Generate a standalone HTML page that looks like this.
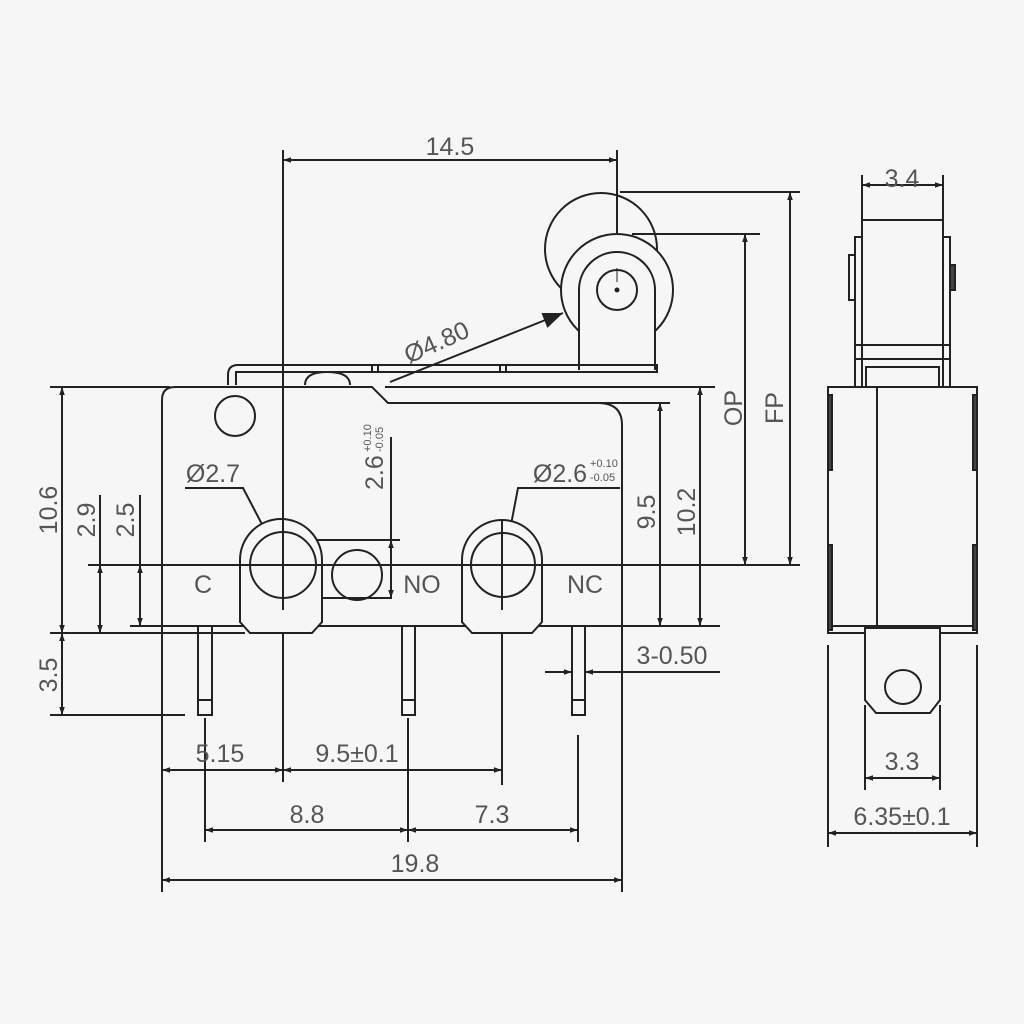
<!DOCTYPE html>
<html><head><meta charset="utf-8"><style>
html,body{margin:0;padding:0;background:#f6f6f6;}
svg{display:block}
text{font-family:"Liberation Sans Narrow","Liberation Sans",sans-serif;fill:#555;font-size:25px}
</style></head><body>
<svg width="1024" height="1024" viewBox="0 0 1024 1024" xmlns="http://www.w3.org/2000/svg">
<defs>
<marker id="a" viewBox="0 0 10 10" refX="10" refY="5" markerWidth="12" markerHeight="8" orient="auto-start-reverse" markerUnits="userSpaceOnUse"><path d="M0,1.5 L10,5 L0,8.5 Z" fill="#222"/></marker>
<marker id="b" viewBox="0 0 10 10" refX="10" refY="5" markerWidth="34" markerHeight="20" orient="auto" markerUnits="userSpaceOnUse"><path d="M0,1 L10,5 L0,9 Z" fill="#222"/></marker>
</defs>
<rect width="1024" height="1024" fill="#f6f6f6"/>
<g stroke="#222" stroke-width="2" fill="none">
<line x1="283" y1="150" x2="283" y2="782"/>
<line x1="617" y1="150" x2="617" y2="305"/>
<line x1="620" y1="192" x2="800" y2="192"/>
<line x1="632" y1="234" x2="760" y2="234"/>
<line x1="385" y1="387" x2="715" y2="387"/>
<line x1="600" y1="403" x2="670" y2="403"/>
<line x1="50" y1="387" x2="170" y2="387"/>
<line x1="50" y1="633" x2="245" y2="633"/>
<line x1="50" y1="715" x2="185" y2="715"/>
<line x1="88" y1="565" x2="800" y2="565"/>
<line x1="130" y1="626" x2="720" y2="626"/>
<line x1="162" y1="626" x2="162" y2="892"/>
<line x1="622" y1="626" x2="622" y2="892"/>
<line x1="502" y1="565" x2="502" y2="785"/>
<line x1="205" y1="718" x2="205" y2="842"/>
<line x1="408" y1="718" x2="408" y2="842"/>
<line x1="578" y1="735" x2="578" y2="842"/>
<line x1="100" y1="495" x2="100" y2="633"/>
<line x1="140" y1="495" x2="140" y2="626"/>
<line x1="283" y1="598" x2="392" y2="598"/>
<line x1="283" y1="540" x2="400" y2="540"/>
<line x1="391" y1="437" x2="391" y2="540"/>
<line x1="283" y1="160" x2="617" y2="160" marker-start="url(#a)" marker-end="url(#a)"/>
<line x1="62" y1="387" x2="62" y2="633" marker-start="url(#a)" marker-end="url(#a)"/>
<line x1="62" y1="633" x2="62" y2="715" marker-start="url(#a)" marker-end="url(#a)"/>
<line x1="100" y1="565" x2="100" y2="633" marker-start="url(#a)" marker-end="url(#a)"/>
<line x1="140" y1="565" x2="140" y2="626" marker-start="url(#a)" marker-end="url(#a)"/>
<line x1="391" y1="540" x2="391" y2="598" marker-start="url(#a)" marker-end="url(#a)"/>
<line x1="660" y1="403" x2="660" y2="626" marker-start="url(#a)" marker-end="url(#a)"/>
<line x1="700" y1="387" x2="700" y2="626" marker-start="url(#a)" marker-end="url(#a)"/>
<line x1="745" y1="234" x2="745" y2="565" marker-start="url(#a)" marker-end="url(#a)"/>
<line x1="790" y1="192" x2="790" y2="565" marker-start="url(#a)" marker-end="url(#a)"/>
<line x1="162" y1="770" x2="283" y2="770" marker-start="url(#a)" marker-end="url(#a)"/>
<line x1="283" y1="770" x2="502" y2="770" marker-start="url(#a)" marker-end="url(#a)"/>
<line x1="205" y1="830" x2="408" y2="830" marker-start="url(#a)" marker-end="url(#a)"/>
<line x1="408" y1="830" x2="578" y2="830" marker-start="url(#a)" marker-end="url(#a)"/>
<line x1="162" y1="880" x2="622" y2="880" marker-start="url(#a)" marker-end="url(#a)"/>
<line x1="545" y1="672" x2="572" y2="672" marker-end="url(#a)"/>
<line x1="720" y1="672" x2="585" y2="672" marker-end="url(#a)"/>
<polyline points="185,488 243,488 265,530"/>
<polyline points="620,488 518,488 510,530"/>
<line x1="390" y1="382" x2="563" y2="313" marker-end="url(#b)"/>
<!-- roller -->
<circle cx="601" cy="249" r="56"/>
<circle cx="617" cy="290" r="56" fill="#f6f6f6"/>
<line x1="617" y1="150" x2="617" y2="234"/>
<path d="M579,370 L579,290 A38,38 0 0 1 655,290 L655,370" fill="#f6f6f6"/>
<circle cx="617" cy="290" r="20"/>
<circle cx="617" cy="290" r="1.5" fill="#222"/>
<line x1="617" y1="268" x2="617" y2="282" stroke-width="1"/>
<!-- lever -->
<path d="M228,385 L228,375 Q228,365 238,365 L657,365 L657,372 L236,372 L236,385"/>
<line x1="372" y1="365" x2="372" y2="372"/><line x1="378" y1="365" x2="378" y2="372"/>
<line x1="500" y1="365" x2="500" y2="372"/><line x1="506" y1="365" x2="506" y2="372"/>
<path d="M305,385 Q305,372 327,372 Q350,372 350,385"/>
<!-- body -->
<path d="M175,387 L372,387 L388,403 L598,403 Q622,403 622,425 L622,626 L162,626 L162,400 Q162,387 175,387 Z" fill="none"/>
<circle cx="235" cy="416" r="20"/>
<path d="M240,622 L240,560 A41,41 0 0 1 322,560 L322,622 L312,633 L250,633 Z" fill="#f6f6f6"/>
<circle cx="283" cy="565" r="33"/>
<path d="M462,622 L462,560 A40,40 0 0 1 542,560 L542,622 L532,633 L472,633 Z" fill="#f6f6f6"/>
<circle cx="503" cy="565" r="32"/>
<circle cx="357" cy="575" r="25"/>
<line x1="88" y1="565" x2="560" y2="565"/>
<line x1="283" y1="520" x2="283" y2="610"/>
<line x1="502" y1="520" x2="502" y2="610"/>
<rect x="198" y="626" width="14" height="89"/><line x1="198" y1="700" x2="212" y2="700"/>
<rect x="402" y="626" width="13" height="89"/><line x1="402" y1="700" x2="415" y2="700"/>
<rect x="572" y="626" width="13" height="89"/><line x1="572" y1="700" x2="585" y2="700"/>
<!-- right view -->
<line x1="862" y1="175" x2="862" y2="222"/><line x1="943" y1="175" x2="943" y2="222"/>
<line x1="862" y1="185" x2="943" y2="185" marker-start="url(#a)" marker-end="url(#a)"/>
<rect x="862" y="220" width="81" height="125"/>
<rect x="855" y="237" width="7" height="150"/><rect x="943" y="237" width="7" height="150"/>
<rect x="849" y="255" width="6" height="45"/><rect x="950" y="265" width="5" height="25" fill="#444"/>
<rect x="855" y="345" width="95" height="14"/>
<rect x="866" y="367" width="73" height="20"/>
<rect x="828" y="387" width="149" height="246"/>
<line x1="877" y1="387" x2="877" y2="626"/>
<line x1="828" y1="626" x2="977" y2="626"/>
<rect x="828" y="395" width="4" height="75" fill="#444"/><rect x="973" y="395" width="4" height="75" fill="#444"/>
<rect x="828" y="545" width="4" height="85" fill="#444"/><rect x="973" y="545" width="4" height="85" fill="#444"/>
<path d="M865,628 L940,628 L940,700 L930,713 L876,713 L865,700 Z" fill="#f6f6f6"/>
<ellipse cx="903" cy="687" rx="18" ry="17"/>
<line x1="865" y1="705" x2="865" y2="790"/><line x1="940" y1="705" x2="940" y2="790"/>
<line x1="865" y1="778" x2="940" y2="778" marker-start="url(#a)" marker-end="url(#a)"/>
<line x1="828" y1="645" x2="828" y2="847"/><line x1="977" y1="645" x2="977" y2="847"/>
<line x1="828" y1="833" x2="977" y2="833" marker-start="url(#a)" marker-end="url(#a)"/>
</g>
<g>
<text x="450" y="155" text-anchor="middle">14.5</text>
<text x="902" y="187" text-anchor="middle">3.4</text>
<text x="0" y="0" transform="translate(440,350) rotate(-24)" text-anchor="middle">Ø4.80</text>
<text x="213" y="482" text-anchor="middle">Ø2.7</text>
<text x="560" y="482" text-anchor="middle">Ø2.6</text>
<text x="590" y="467" style="font-size:11px">+0.10</text>
<text x="590" y="481" style="font-size:11px">-0.05</text>
<g transform="translate(383,490) rotate(-90)"><text x="0" y="0">2.6</text><text x="38" y="-12" style="font-size:11px">+0.10</text><text x="38" y="0" style="font-size:11px">-0.05</text></g>
<text x="203" y="593" text-anchor="middle">C</text>
<text x="422" y="593" text-anchor="middle">NO</text>
<text x="585" y="593" text-anchor="middle">NC</text>
<text transform="translate(57,510) rotate(-90)" text-anchor="middle">10.6</text>
<text transform="translate(95,520) rotate(-90)" text-anchor="middle">2.9</text>
<text transform="translate(134,520) rotate(-90)" text-anchor="middle">2.5</text>
<text transform="translate(57,675) rotate(-90)" text-anchor="middle">3.5</text>
<text transform="translate(655,512) rotate(-90)" text-anchor="middle">9.5</text>
<text transform="translate(695,512) rotate(-90)" text-anchor="middle">10.2</text>
<text transform="translate(742,408) rotate(-90)" text-anchor="middle">OP</text>
<text transform="translate(783,408) rotate(-90)" text-anchor="middle">FP</text>
<text x="672" y="664" text-anchor="middle">3-0.50</text>
<text x="220" y="762" text-anchor="middle">5.15</text>
<text x="357" y="762" text-anchor="middle">9.5±0.1</text>
<text x="307" y="823" text-anchor="middle">8.8</text>
<text x="492" y="823" text-anchor="middle">7.3</text>
<text x="415" y="872" text-anchor="middle">19.8</text>
<text x="902" y="770" text-anchor="middle">3.3</text>
<text x="902" y="825" text-anchor="middle">6.35±0.1</text>
</g>
</svg>
</body></html>
